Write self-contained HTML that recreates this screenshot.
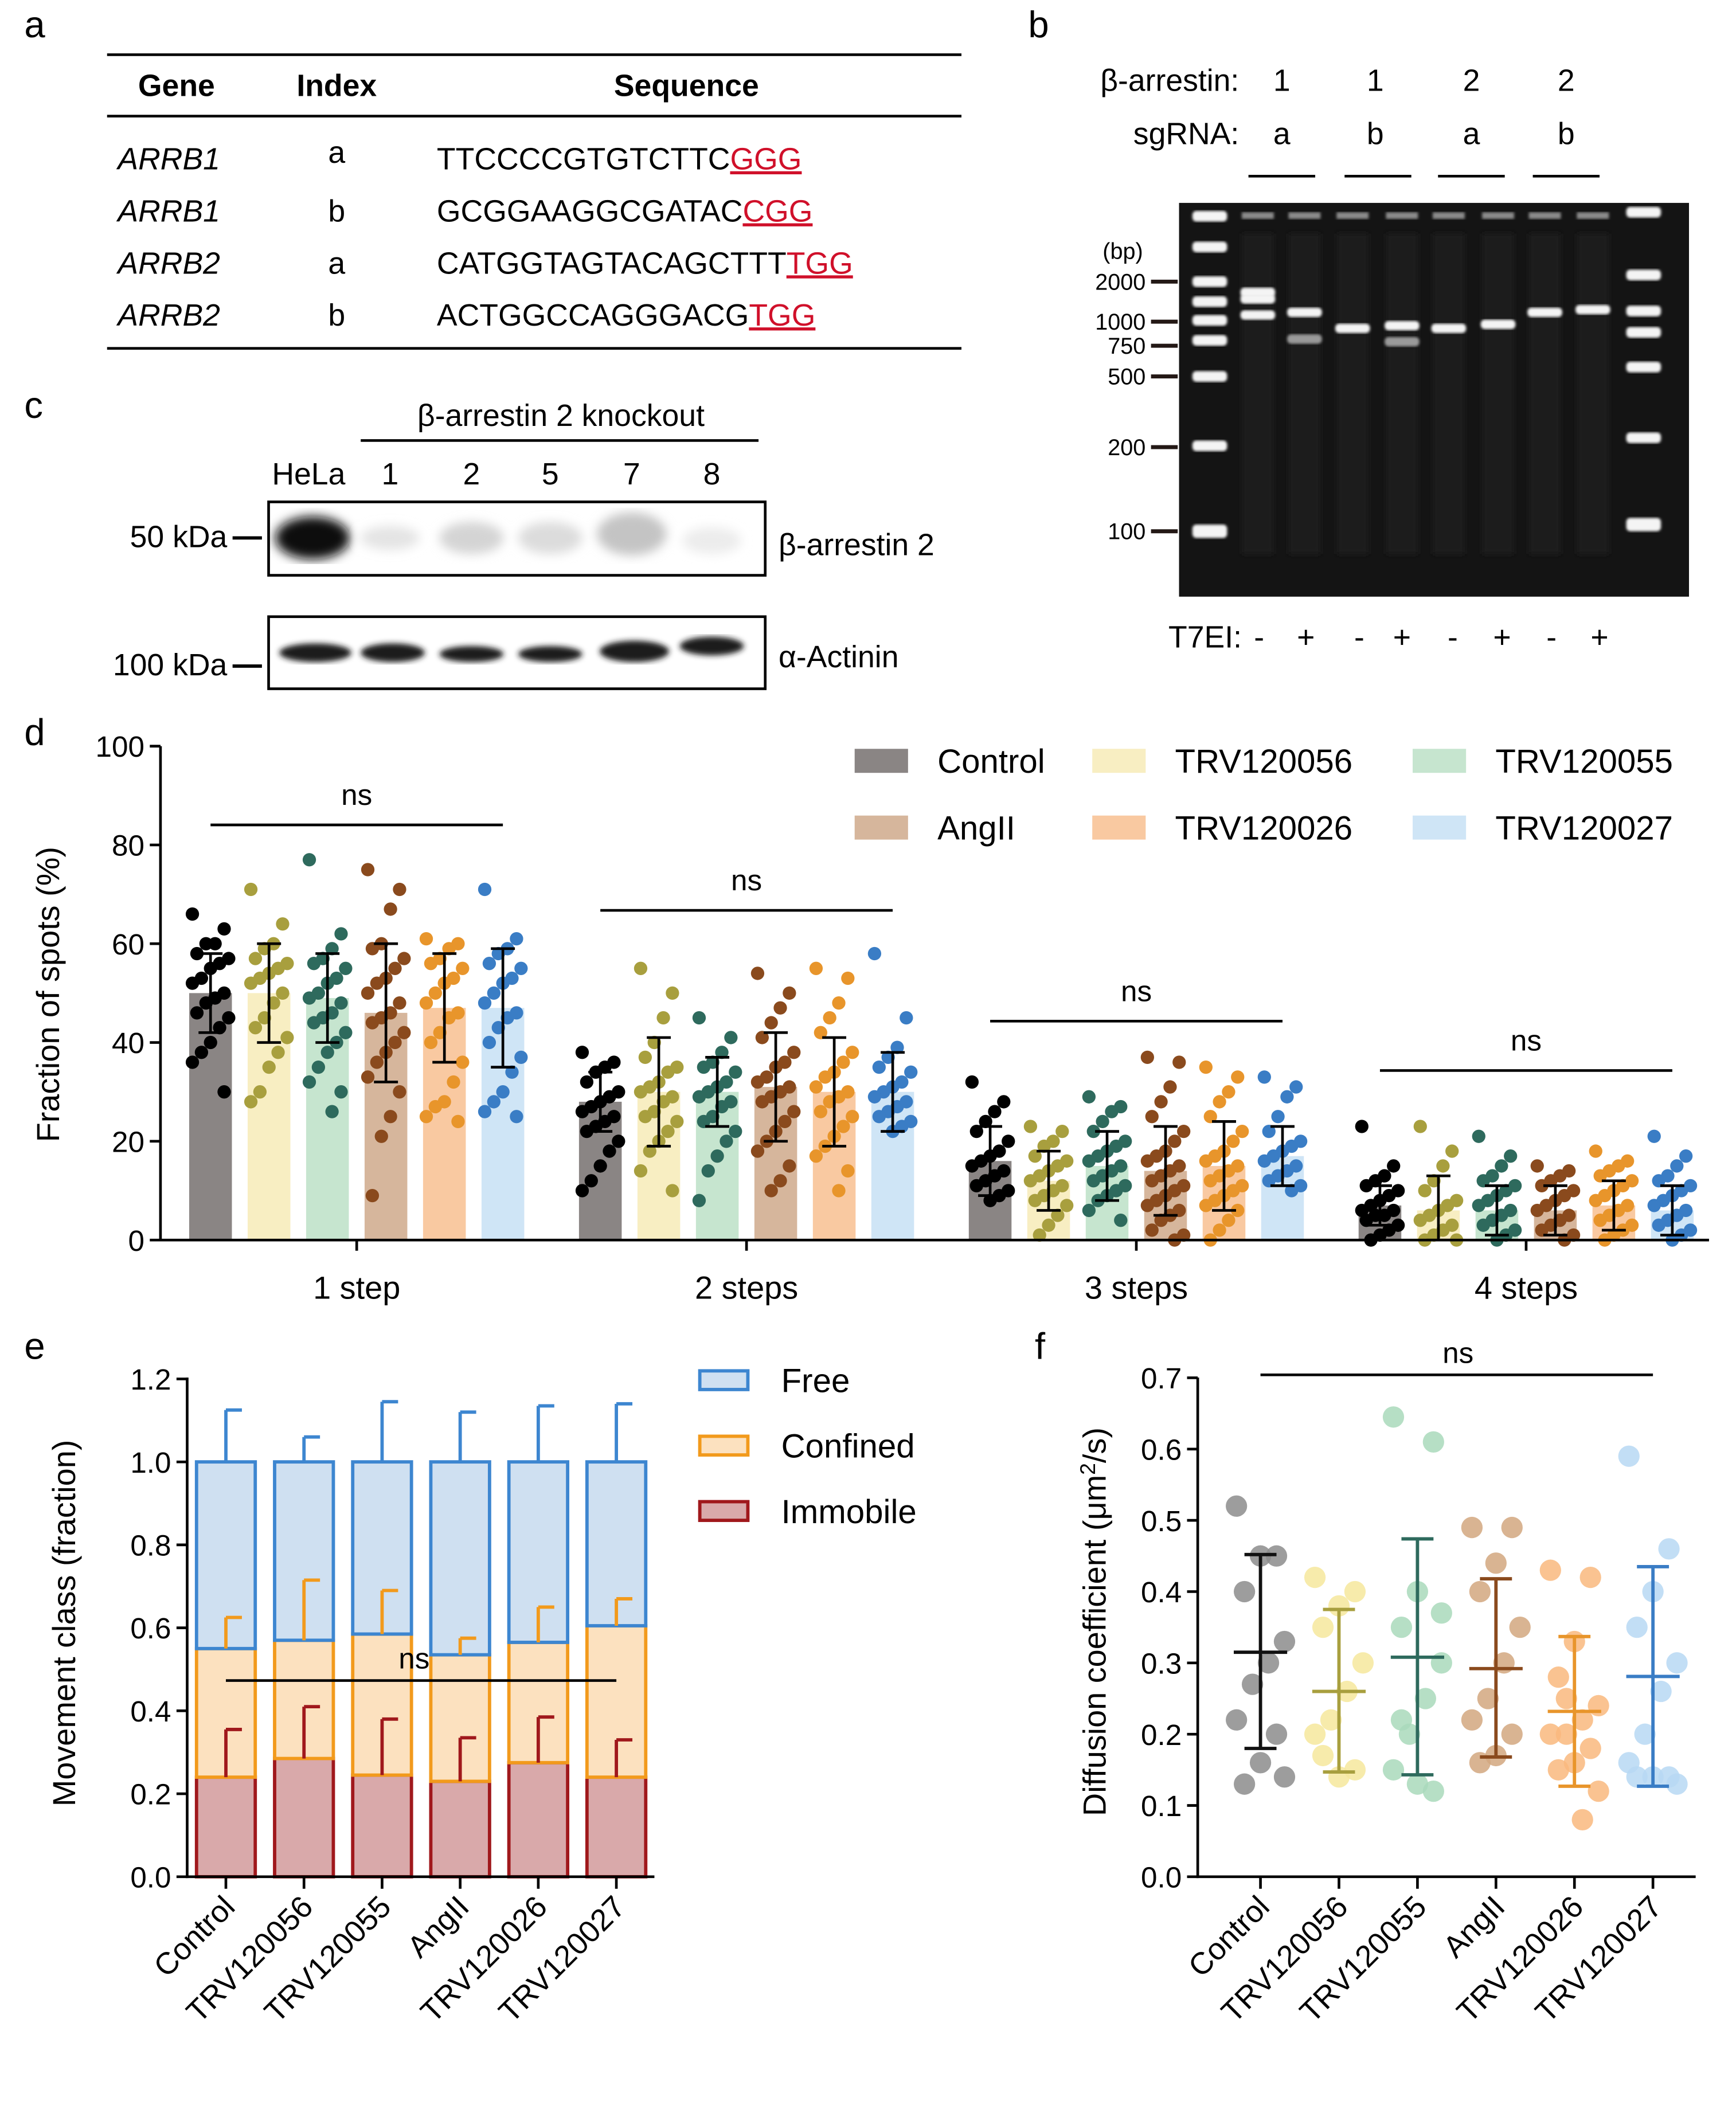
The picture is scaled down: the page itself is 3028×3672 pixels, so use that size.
<!DOCTYPE html>
<html><head><meta charset="utf-8"><style>
html,body{margin:0;padding:0;background:#fff;}
svg{display:block;font-family:"Liberation Sans",Arial,sans-serif;}
</style></head><body>
<svg id="fig" xmlns="http://www.w3.org/2000/svg" width="3028" height="3672" viewBox="0 0 1300 1577">
<defs>
<filter id="blur2"><feGaussianBlur stdDeviation="2"/></filter>
<filter id="blur4"><feGaussianBlur stdDeviation="4"/></filter>
<filter id="blur1"><feGaussianBlur stdDeviation="1"/></filter>
</defs>
<rect width="1300" height="1577" fill="#fff"/>

<!-- Panel a -->
<g font-size="23">
<text x="18" y="28" font-size="28">a</text>
<line x1="80" y1="41" x2="720" y2="41" stroke="#000" stroke-width="2"/>
<line x1="80" y1="87" x2="720" y2="87" stroke="#000" stroke-width="2"/>
<line x1="80" y1="261" x2="720" y2="261" stroke="#000" stroke-width="2"/>
<text x="132" y="72" text-anchor="middle" font-weight="bold">Gene</text>
<text x="252" y="72" text-anchor="middle" font-weight="bold">Index</text>
<text x="514" y="72" text-anchor="middle" font-weight="bold">Sequence</text>
<g font-style="italic"><text x="88" y="127">ARRB1</text><text x="88" y="166">ARRB1</text><text x="88" y="205">ARRB2</text><text x="88" y="244">ARRB2</text></g>
<g text-anchor="middle"><text x="252" y="122">a</text><text x="252" y="166">b</text><text x="252" y="205">a</text><text x="252" y="244">b</text></g>
<text x="327" y="127">TTCCCCGTGTCTTC<tspan fill="#d0102a" text-decoration="underline">GGG</tspan></text>
<text x="327" y="166">GCGGAAGGCGATAC<tspan fill="#d0102a" text-decoration="underline">CGG</tspan></text>
<text x="327" y="205">CATGGTAGTACAGCTTT<tspan fill="#d0102a" text-decoration="underline">TGG</tspan></text>
<text x="327" y="244">ACTGGCCAGGGACG<tspan fill="#d0102a" text-decoration="underline">TGG</tspan></text>
</g>

<!-- Panel b -->
<g font-size="23">
<text x="770" y="28" font-size="28">b</text>
<text x="928" y="68" text-anchor="end">β-arrestin:</text>
<text x="928" y="108" text-anchor="end">sgRNA:</text>
<g text-anchor="middle"><text x="960" y="68">1</text><text x="1030" y="68">1</text><text x="1102" y="68">2</text><text x="1173" y="68">2</text>
<text x="960" y="108">a</text><text x="1030" y="108">b</text><text x="1102" y="108">a</text><text x="1173" y="108">b</text></g>
<g stroke="#000" stroke-width="2"><line x1="935" y1="132" x2="985" y2="132"/><line x1="1007" y1="132" x2="1057" y2="132"/><line x1="1077" y1="132" x2="1127" y2="132"/><line x1="1148" y1="132" x2="1198" y2="132"/></g>
<rect x="883" y="152" width="382" height="295" fill="#141414"/>
<g id="gelbands"></g>
<g font-size="17" text-anchor="end" fill="#000">
<text x="856" y="194">(bp)</text>
<text x="858" y="217">2000</text><text x="858" y="247">1000</text><text x="858" y="265">750</text><text x="858" y="288">500</text><text x="858" y="341">200</text><text x="858" y="404">100</text>
</g>
<g stroke="#231815" stroke-width="3"><line x1="862" y1="211" x2="882" y2="211"/><line x1="862" y1="241" x2="882" y2="241"/><line x1="862" y1="259" x2="882" y2="259"/><line x1="862" y1="282" x2="882" y2="282"/><line x1="862" y1="335" x2="882" y2="335"/><line x1="862" y1="398" x2="882" y2="398"/></g>
<text x="930" y="485" text-anchor="end">T7EI:</text>
<g text-anchor="middle"><text x="943" y="485">-</text><text x="978" y="485">+</text><text x="1018" y="485">-</text><text x="1050" y="485">+</text><text x="1088" y="485">-</text><text x="1125" y="485">+</text><text x="1162" y="485">-</text><text x="1198" y="485">+</text></g>
</g>

<!-- Panel c -->
<g font-size="23">
<text x="18" y="313" font-size="28">c</text>
<text x="420" y="319" text-anchor="middle">β-arrestin 2 knockout</text>
<line x1="270" y1="330" x2="568" y2="330" stroke="#000" stroke-width="2"/>
<g text-anchor="middle"><text x="231" y="363">HeLa</text><text x="292" y="363">1</text><text x="353" y="363">2</text><text x="412" y="363">5</text><text x="473" y="363">7</text><text x="533" y="363">8</text></g>
<rect x="201" y="376" width="372" height="55" fill="#fff" stroke="#000" stroke-width="2"/>
<rect x="201" y="462" width="372" height="54" fill="#fff" stroke="#000" stroke-width="2"/>
<g filter="url(#blur4)">
<ellipse cx="234" cy="403" rx="28" ry="16" fill="#111"/>
<ellipse cx="292" cy="403" rx="22" ry="9" fill="#e4e4e4"/>
<ellipse cx="353" cy="403" rx="24" ry="12" fill="#d4d4d4"/>
<ellipse cx="412" cy="403" rx="24" ry="12" fill="#dcdcdc"/>
<ellipse cx="473" cy="400" rx="26" ry="16" fill="#c4c4c4"/>
<ellipse cx="533" cy="405" rx="22" ry="10" fill="#ececec"/>
</g>
<g filter="url(#blur2)" fill="#1a1a1a">
<ellipse cx="236" cy="489" rx="27" ry="7"/><ellipse cx="294" cy="489" rx="24" ry="7"/><ellipse cx="353" cy="490" rx="24" ry="6"/><ellipse cx="412" cy="490" rx="24" ry="6"/><ellipse cx="475" cy="488" rx="26" ry="8"/><ellipse cx="533" cy="484" rx="24" ry="7"/>
</g>
<text x="170" y="410" text-anchor="end">50 kDa</text>
<line x1="174" y1="403" x2="196" y2="403" stroke="#000" stroke-width="2.5"/>
<text x="170" y="506" text-anchor="end">100 kDa</text>
<line x1="174" y1="499" x2="196" y2="499" stroke="#000" stroke-width="2.5"/>
<text x="583" y="416">β-arrestin 2</text>
<text x="583" y="500">α-Actinin</text>
</g>

<g id="pd"></g>
<g id="pe"></g>
<g id="pf"></g>
</svg>
<script>
const NS='http://www.w3.org/2000/svg';
function mk(tag,attrs,parent){const e=document.createElementNS(NS,tag);for(const k in attrs)e.setAttribute(k,attrs[k]);parent.appendChild(e);return e;}

/* ---------- gel bands (image) ---------- */
const gelLaneX=[906,942,977,1013,1050,1085,1122,1157,1193,1231];
const gelBandY=[[162,185,211,226,240,255,282,334,397],[219,224,236],[234,254],[246],[244,256],[246],[243],[234],[232],[159,206,233,249,275,328,392]];
(function(){const g=document.getElementById('gelbands');
gelLaneX.forEach((x,li)=>{
  const lad=(li==0||li==9);
  if(!lad){mk('rect',{x:x-12,y:175,width:24,height:240,fill:'#1c1c1c',filter:'url(#blur2)'},g);
    mk('rect',{x:x-12,y:159,width:24,height:5,fill:'#8a8a8a',filter:'url(#blur1)'},g);}
  gelBandY[li].forEach((y,bi)=>{const b=mk('rect',{x:x-13,y:y-(lad?4:3.5),width:26,height:lad?(y>380?10:8):7,fill:(!lad&&bi>0&&gelBandY[li].length>1&&(li==2||li==4))?'#9a9a9a':'#f4f4f4',rx:3,filter:'url(#blur1)'},g);
    
    });
});})();

/* ---------- Panel d ---------- */
const dCats=['1 step','2 steps','3 steps','4 steps'];
const dSeries=['Control','TRV120056','TRV120055','AngII','TRV120026','TRV120027'];
const dMeans=[[50,50,49,46,47,47],[28,30,30,31,30,30],[16,12,15,14,15,17],[7,6,6,6,7,6]];
const dSD=[[8,10,9,14,11,12],[6,11,7,11,11,8],[7,6,7,9,9,6],[4,7,5,5,5,5]];
const dDots=[
[[66,63,60,60,58,57,56,55,53,52,50,49,48,46,45,43,40,38,36,30],[71,64,60,59,57,56,55,54,53,52,50,48,45,43,41,38,35,30,28],[77,62,59,57,56,55,53,52,50,49,48,46,45,44,42,40,38,35,32,30,26],[75,71,67,60,59,57,55,53,52,50,48,46,45,44,42,40,38,36,33,30,25,21,9],[61,60,59,57,56,55,53,52,50,48,46,45,42,40,36,32,28,27,25,24],[71,61,59,58,56,55,53,52,50,48,46,45,43,40,37,34,30,28,26,25]],
[[38,36,35,34,32,30,29,28,27,26,25,24,23,22,20,18,15,12,10],[55,50,45,40,37,35,34,32,31,30,29,28,26,25,24,22,20,18,14,10],[45,41,38,36,35,34,32,31,30,29,28,27,25,24,22,20,17,14,8],[54,50,47,44,41,38,36,35,33,32,31,30,29,28,26,24,22,20,18,15,12,10],[55,53,48,45,42,38,36,34,33,31,30,29,28,26,25,23,21,19,17,14,10],[58,45,39,37,35,34,32,31,30,29,28,27,26,25,24,23,22]],
[[32,28,26,24,22,20,18,17,16,15,14,13,12,11,10,9,8],[23,22,20,19,17,16,15,14,13,12,11,10,9,8,7,5,3,1],[29,27,26,24,22,20,19,18,17,16,15,14,13,12,11,10,9,8,6,4],[37,36,31,28,25,22,20,18,17,16,15,14,13,12,11,10,9,8,7,6,5,4,2,1,0],[35,33,30,28,25,22,20,18,17,16,15,14,13,12,11,10,9,8,7,6,4,2,0],[33,31,29,25,22,20,19,18,17,16,15,14,13,12,11,10]],
[[23,15,13,12,11,10,9,8,7,6,6,5,5,4,3,2,1,0],[23,18,15,12,10,8,7,6,5,4,3,2,1,0,0],[21,17,15,13,12,11,10,9,8,7,6,5,4,3,2,1,0],[15,14,13,12,11,10,9,8,7,6,5,4,3,2,1,0],[18,16,15,14,13,12,11,10,9,8,7,6,5,4,3,2,1,0],[21,17,15,13,12,11,10,9,8,7,6,5,4,3,2,1,0]]];
const dTicks=[0,20,40,60,80,100];
const dBarCol=['#8a8584','#f8eec2','#c6e5cf','#d6b69c','#f9c9a1','#cfe5f6'];
const dDotCol=['#000000','#a89f3e','#2e6a5d','#8a4a1d','#e8952b','#3a7dc5'];
(function(){const g=document.getElementById('pd');
const y=v=>929-v*3.7; const gx=i=>267+i*292; const bx=(i,j)=>gx(i)+(j-2.5)*43.8;
let t=mk('text',{x:18,y:558,'font-size':28},g);t.textContent='d';


dTicks.forEach(v=>{mk('line',{x1:112,y1:y(v),x2:120,y2:y(v),stroke:'#000','stroke-width':2},g);
 const l=mk('text',{x:108,y:y(v)+8,'font-size':22,'text-anchor':'end'},g);l.textContent=v;
 
 });
const yt=mk('text',{x:0,y:0,'font-size':24,'text-anchor':'middle',transform:'translate(44,745) rotate(-90)'},g);yt.textContent='Fraction of spots (%)';


dCats.forEach((c,i)=>{
 dSeries.forEach((s,j)=>{const m=dMeans[i][j];const x=bx(i,j);
  const b=mk('rect',{x:x-16,y:y(m),width:32,height:929-y(m),fill:dBarCol[j]},g);
  
  
  dDots[i][j].forEach((v,k)=>{const off=((k*7)%9-4)*3.4;
   const d=mk('circle',{cx:x+off,cy:y(v),r:5,fill:dDotCol[j]},g);
   
   });
  const sd=dSD[i][j];
  mk('line',{x1:x,y1:y(m+sd),x2:x,y2:y(Math.max(0,m-sd)),stroke:'#000','stroke-width':2},g);
  mk('line',{x1:x-9,y1:y(m+sd),x2:x+9,y2:y(m+sd),stroke:'#000','stroke-width':2},g);
  mk('line',{x1:x-9,y1:y(Math.max(0,m-sd)),x2:x+9,y2:y(Math.max(0,m-sd)),stroke:'#000','stroke-width':2},g);
 });
 mk('line',{x1:gx(i),y1:929,x2:gx(i),y2:937,stroke:'#000','stroke-width':2},g);
 const l=mk('text',{x:gx(i),y:973,'font-size':24,'text-anchor':'middle'},g);l.textContent=c;
 
 
 const lyy=[618,682,765,802][i];
 mk('line',{x1:bx(i,0),y1:lyy,x2:bx(i,5),y2:lyy,stroke:'#000','stroke-width':2},g);
 const ns=mk('text',{x:gx(i),y:lyy-15,'font-size':22,'text-anchor':'middle'},g);ns.textContent='ns';
 
 
});
mk('line',{x1:120,y1:559,x2:120,y2:930,stroke:'#000','stroke-width':2},g);
mk('line',{x1:119,y1:929,x2:1280,y2:929,stroke:'#000','stroke-width':2},g);
const legX=[640,818,1058], legY=[570,620];
const legOrder=[[0,1,2],[3,4,5]];
legOrder.forEach((row,r)=>row.forEach((j,c)=>{
 const sw=mk('rect',{x:legX[c],y:legY[r]-9,width:40,height:18,fill:dBarCol[j]},g);
 
 
 const lt=mk('text',{x:legX[c]+62,y:legY[r]+9,'font-size':25},g);lt.textContent=dSeries[j];
 
 
}));
})();

/* ---------- Panel e ---------- */
const eCats=['Control','TRV120056','TRV120055','AngII','TRV120026','TRV120027'];
const eImmobile=[0.24,0.285,0.245,0.23,0.275,0.24];
const eConfined=[0.55,0.57,0.585,0.535,0.565,0.605];
const eFree=[1.0,1.0,1.0,1.0,1.0,1.0];
const eImmErr=[0.355,0.41,0.38,0.335,0.385,0.33];
const eConfErr=[0.625,0.715,0.69,0.575,0.65,0.67];
const eFreeErr=[1.125,1.06,1.145,1.12,1.135,1.14];
const eTicks=[0,0.2,0.4,0.6,0.8,1.0,1.2];
(function(){const g=document.getElementById('pe');
const y=v=>1406-v*310.8; const x=i=>169+i*58.5;
let t=mk('text',{x:18,y:1018,'font-size':28},g);t.textContent='e';


eTicks.forEach(v=>{mk('line',{x1:132,y1:y(v),x2:140,y2:y(v),stroke:'#000','stroke-width':2},g);
 const l=mk('text',{x:128,y:y(v)+8,'font-size':22,'text-anchor':'end'},g);l.textContent=v.toFixed(1);
 
 });
const yt=mk('text',{x:0,y:0,'font-size':24,'text-anchor':'middle',transform:'translate(56,1216) rotate(-90)'},g);yt.textContent='Movement class (fraction)';


const layers=[[null,eImmobile,eImmErr,'#d9a9aa','#a0181c','immobile'],[eImmobile,eConfined,eConfErr,'#fce1bf','#f29a1c','confined'],[eConfined,eFree,eFreeErr,'#cfe0f1','#3d86d0','free']];
eCats.forEach((c,i)=>{
 layers.forEach(L=>{
  const lo=L[0]?L[0][i]:0, hi=L[1][i];
  const b=mk('rect',{x:x(i)-22,y:y(hi),width:44,height:y(lo)-y(hi),fill:L[3],stroke:L[4],'stroke-width':2.5},g);
  
  
 });
 layers.forEach(L=>{
  const hi=L[1][i], er=L[2][i];
  mk('line',{x1:x(i),y1:y(hi),x2:x(i),y2:y(er),stroke:L[4],'stroke-width':2.5},g);
  mk('line',{x1:x(i),y1:y(er),x2:x(i)+12,y2:y(er),stroke:L[4],'stroke-width':2.5},g);
 });
 mk('line',{x1:x(i),y1:1406,x2:x(i),y2:1415,stroke:'#000','stroke-width':2},g);
 const l=mk('text',{x:0,y:0,'font-size':23,'text-anchor':'end',transform:`translate(${x(i)+8},1430) rotate(-45)`},g);l.textContent=c;
 
 
});
mk('line',{x1:140,y1:1032,x2:140,y2:1407,stroke:'#000','stroke-width':2},g);
mk('line',{x1:139,y1:1406,x2:490,y2:1406,stroke:'#000','stroke-width':2},g);
mk('line',{x1:x(0),y1:1259,x2:x(5),y2:1259,stroke:'#000','stroke-width':2},g);
const ns=mk('text',{x:310,y:1250,'font-size':22,'text-anchor':'middle'},g);ns.textContent='ns';


[['Free','#cfe0f1','#3d86d0',1034],['Confined','#fce1bf','#f29a1c',1083],['Immobile','#d9a9aa','#a0181c',1132]].forEach(L=>{
 const sw=mk('rect',{x:524,y:L[3]-7,width:36,height:14,fill:L[1],stroke:L[2],'stroke-width':2.5},g);
 
 
 const lt=mk('text',{x:585,y:L[3]+9,'font-size':25},g);lt.textContent=L[0];
 
 
});
})();

/* ---------- Panel f ---------- */
const fCats=['Control','TRV120056','TRV120055','AngII','TRV120026','TRV120027'];
const fMeans=[0.315,0.26,0.308,0.292,0.232,0.281];
const fUpper=[0.452,0.375,0.474,0.418,0.337,0.435];
const fLower=[0.18,0.147,0.143,0.168,0.127,0.127];
const fDots=[[0.52,0.45,0.45,0.40,0.33,0.30,0.27,0.22,0.20,0.16,0.13,0.14],
[0.42,0.40,0.38,0.35,0.30,0.26,0.22,0.20,0.15,0.14,0.17],
[0.645,0.61,0.40,0.35,0.30,0.25,0.20,0.15,0.12,0.13,0.22,0.37],
[0.49,0.49,0.44,0.40,0.35,0.30,0.25,0.22,0.20,0.17,0.16],
[0.43,0.42,0.33,0.28,0.24,0.22,0.20,0.20,0.18,0.16,0.15,0.12,0.08,0.25],
[0.59,0.46,0.40,0.35,0.30,0.26,0.20,0.16,0.14,0.14,0.14,0.13]];
const fTicks=[0,0.1,0.2,0.3,0.4,0.5,0.6,0.7];
const fDotCol=['#8c8c8c','#f6e79c','#a9d9bb','#d2a77f','#f9b97e','#b7d8f3'];
const fLineCol=['#111111','#a89f3e','#2e6a5d','#8a4a1d','#e8952b','#3a7dc5'];
(function(){const g=document.getElementById('pf');
const y=v=>1406-v*534; const x=i=>944+i*58.8;
let t=mk('text',{x:775,y:1018,'font-size':28},g);t.textContent='f';


fTicks.forEach(v=>{mk('line',{x1:889,y1:y(v),x2:897,y2:y(v),stroke:'#000','stroke-width':2},g);
 const l=mk('text',{x:885,y:y(v)+8,'font-size':22,'text-anchor':'end'},g);l.textContent=v.toFixed(1);
 
 });
const yt=mk('text',{x:0,y:0,'font-size':24,'text-anchor':'middle',transform:'translate(828,1215) rotate(-90)'},g);
yt.innerHTML='Diffusion coefficient (μm<tspan dy="-8" font-size="16">2</tspan><tspan dy="8">/s)</tspan>';


fCats.forEach((c,i)=>{
 fDots[i].forEach((v,k)=>{const off=((k*5)%7-3)*6;
  const d=mk('circle',{cx:x(i)+off,cy:y(v),r:8,fill:fDotCol[i],'fill-opacity':0.85},g);
  
  });
 const col=fLineCol[i];
 mk('line',{x1:x(i),y1:y(fUpper[i]),x2:x(i),y2:y(fLower[i]),stroke:col,'stroke-width':2.5},g);
 mk('line',{x1:x(i)-12,y1:y(fUpper[i]),x2:x(i)+12,y2:y(fUpper[i]),stroke:col,'stroke-width':2.5},g);
 mk('line',{x1:x(i)-12,y1:y(fLower[i]),x2:x(i)+12,y2:y(fLower[i]),stroke:col,'stroke-width':2.5},g);
 const mn=mk('line',{x1:x(i)-20,y1:y(fMeans[i]),x2:x(i)+20,y2:y(fMeans[i]),stroke:col,'stroke-width':2.5},g);
 
 
 mk('line',{x1:x(i),y1:1406,x2:x(i),y2:1415,stroke:'#000','stroke-width':2},g);
 const l=mk('text',{x:0,y:0,'font-size':23,'text-anchor':'end',transform:`translate(${x(i)+8},1430) rotate(-45)`},g);l.textContent=c;
 
 
});
mk('line',{x1:897,y1:1032,x2:897,y2:1407,stroke:'#000','stroke-width':2},g);
mk('line',{x1:896,y1:1406,x2:1270,y2:1406,stroke:'#000','stroke-width':2},g);
mk('line',{x1:x(0),y1:1030,x2:x(5),y2:1030,stroke:'#000','stroke-width':2},g);
const ns=mk('text',{x:1092,y:1021,'font-size':22,'text-anchor':'middle'},g);ns.textContent='ns';


})();
</script>
</body></html>
